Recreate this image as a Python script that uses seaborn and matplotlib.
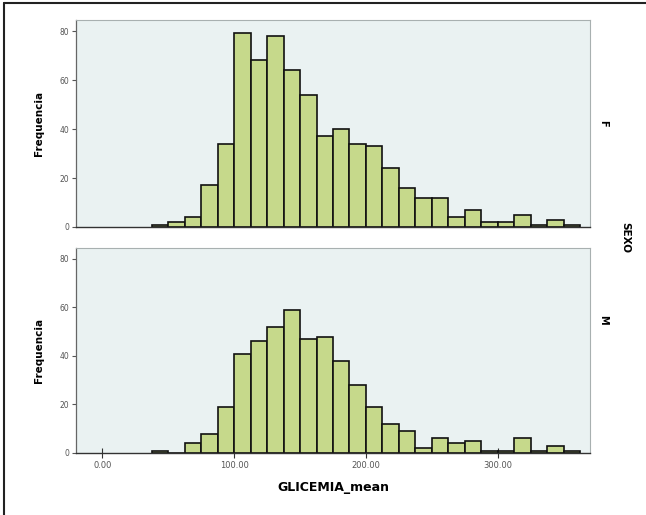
import numpy as np
import matplotlib
matplotlib.use("Agg")
import matplotlib.pyplot as plt
import seaborn as sns
from matplotlib.lines import Line2D

# Data
bin_edges = [37.5 + 12.5 * i for i in range(27)]
counts_F = [1, 2, 4, 17, 34, 79, 68, 78, 64, 54, 37, 40, 34, 33, 24, 16, 12, 12, 4, 7, 2, 2, 5, 1, 3, 1]
counts_M = [1, 0, 4, 8, 19, 41, 46, 52, 59, 47, 48, 38, 28, 19, 12, 9, 2, 6, 4, 5, 1, 1, 6, 1, 3, 1]
panels = ["F", "M"]
x_ticks = [0, 100, 200, 300]
x_ticklabels = ["0.00", "100.00", "200.00", "300.00"]
y_ticks = [0, 20, 40, 60, 80]

sns.set_theme(style="white")
plt.rcParams['font.family'] = ['DejaVu Sans']
plt.rcParams['text.color'] = 'black'
plt.rcParams['axes.labelcolor'] = 'black'

W, H = 646, 515
fig = plt.figure(figsize=(W / 100, H / 100), dpi=100)

bar_color = "#c6d98b"
bg_color = "#eaf2f2"

centers = [(bin_edges[i] + bin_edges[i + 1]) / 2 for i in range(len(bin_edges) - 1)]

boxes = [(76, 20, 590, 227), (76, 248, 590, 453)]
for idx, (lab, counts) in enumerate(zip(panels, [counts_F, counts_M])):
    x0, y0, x1, y1 = boxes[idx]
    ax = fig.add_axes([x0 / W, 1 - y1 / H, (x1 - x0) / W, (y1 - y0) / H])
    ax.set_facecolor(bg_color)
    sns.histplot(x=centers, weights=counts, bins=bin_edges, ax=ax,
                 color=bar_color, edgecolor="#111111", linewidth=1.2, alpha=1)
    ax.set_xlim(-20, 370)
    ax.set_ylim(0, 84.5)
    ax.set_yticks(y_ticks)
    ax.set_yticklabels([str(v) for v in y_ticks], fontsize=5.5, color="#555555")
    ax.tick_params(axis="y", direction="out", length=3, width=0.8, color="#555555", pad=2, left=True)
    for s in ["top", "right"]:
        ax.spines[s].set_color("#a8b0b0")
        ax.spines[s].set_linewidth(0.8)
    ax.spines["left"].set_color("#666666")
    ax.spines["left"].set_linewidth(0.9)
    ax.spines["bottom"].set_color("#333333")
    ax.spines["bottom"].set_linewidth(1.0)
    ax.set_ylabel("Frequencia", fontsize=7.5, fontweight="bold", labelpad=11)
    if idx == 1:
        ax.set_xticks(x_ticks)
        ax.set_xticklabels(x_ticklabels, fontsize=6, color="#555555")
        ax.tick_params(axis="x", direction="inout", length=7, width=0.8, color="#333333", bottom=True, pad=2)
        ax.set_xlabel("GLICEMIA_mean", fontsize=9, fontweight="bold", labelpad=8)
    else:
        ax.set_xticks([])
        ax.set_xlabel("")

fig.text(603 / W, 1 - 123 / H, "F", rotation=-90, fontsize=7, fontweight="bold", ha="center", va="center")
fig.text(603 / W, 1 - 320 / H, "M", rotation=-90, fontsize=7, fontweight="bold", ha="center", va="center")
fig.text(625 / W, 1 - 237 / H, "SEXO", rotation=-90, fontsize=7.5, fontweight="bold", ha="center", va="center")

# partial outer frame (left and top only, as in the reference)
fig.add_artist(Line2D([4 / W, 4 / W], [0, 1 - 3 / H], transform=fig.transFigure, color="#222222", linewidth=1.5))
fig.add_artist(Line2D([4 / W, 1], [1 - 3 / H, 1 - 3 / H], transform=fig.transFigure, color="#222222", linewidth=1.5))

fig.savefig("out.png", dpi=100)
